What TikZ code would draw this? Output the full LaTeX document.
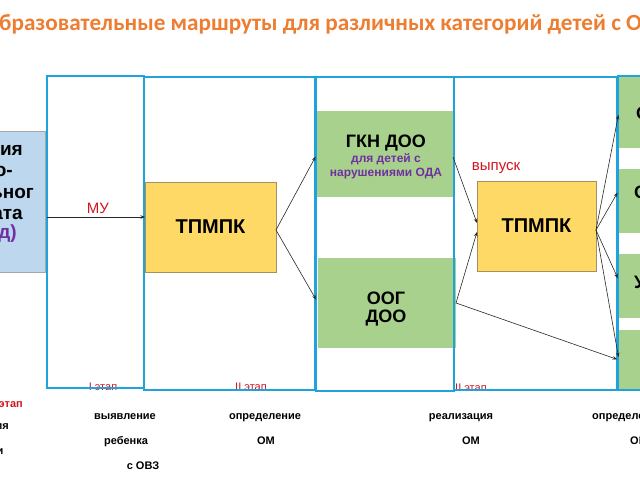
\documentclass[tikz,border=0pt]{standalone}
\usepackage{fontspec}
\setmainfont{Liberation Sans}
\newfontfamily\titlefont{Carlito}[BoldFont={Carlito Bold}]
\usetikzlibrary{arrows.meta}
\definecolor{frameblue}{RGB}{30,163,221}
\definecolor{boxgreen}{RGB}{169,209,142}
\definecolor{boxyellow}{RGB}{255,217,102}
\definecolor{yellowedge}{RGB}{165,145,95}
\definecolor{lightblue}{RGB}{189,215,238}
\definecolor{titleorange}{RGB}{237,125,49}
\definecolor{labelred}{RGB}{210,20,30}
\definecolor{textpurple}{RGB}{112,48,160}
\tikzset{
  frame/.style={draw=frameblue, line width=2.5pt, inner sep=0pt, outer sep=0pt},
  greenbox/.style={fill=boxgreen, inner sep=0pt, outer sep=0pt},
  yellowbox/.style={fill=boxyellow, draw=yellowedge, line width=0.7pt, inner sep=0pt, outer sep=0pt,
    font=\bfseries\fontsize{20}{24}\selectfont},
  arr/.style={draw=black!85, line width=0.6pt, -{Stealth[length=4.5pt,width=3.5pt]}},
  bigtxt/.style={font=\bfseries\fontsize{18}{20}\selectfont, inner sep=0pt},
  smalltxt/.style={font=\bfseries\fontsize{11}{13}\selectfont, inner sep=0pt},
  stagetxt/.style={font=\fontsize{11}{13}\selectfont, text=labelred, inner sep=0pt},
  redtxt/.style={font=\fontsize{15}{18}\selectfont, text=labelred, inner sep=0pt},
}
\begin{document}
\begin{tikzpicture}[x=1pt,y=-1pt]
\useasboundingbox (0,0) rectangle (640,480);
\clip (0,0) rectangle (640,480);
% title
\node[anchor=base west, inner sep=0pt, text=titleorange, font=\titlefont\bfseries\fontsize{23.2}{28}\selectfont] (title) at (-1,30) {бразовательные маршруты для различных категорий детей с О};
% left light blue box
\node[fill=lightblue, draw=black!35, line width=0.6pt, minimum width=80pt, minimum height=141pt, inner sep=0pt] (lb) at (5,201.5) {};
\node[bigtxt, anchor=base east, font=\bfseries\fontsize{19}{22}\selectfont] (lb1) at (23,155) {ния};
\node[bigtxt, anchor=base east, font=\bfseries\fontsize{19}{22}\selectfont] (lb2) at (13,176) {о-};
\node[bigtxt, anchor=base east, font=\bfseries\fontsize{19}{22}\selectfont] (lb3) at (34,198) {ьног};
\node[bigtxt, anchor=base east, font=\bfseries\fontsize{19}{22}\selectfont] (lb4) at (23,219) {ата};
\node[bigtxt, anchor=base east, font=\bfseries\fontsize{19}{22}\selectfont, text=textpurple] (lb5) at (17,238) {д)};
% yellow boxes
\node[yellowbox, minimum width=131pt, minimum height=90pt] (tp1) at (210.5,227) {ТПМПК};
\node[yellowbox, minimum width=119pt, minimum height=90pt] (tp2) at (536.5,226) {ТПМПК};
% green boxes
\node[greenbox, minimum width=136pt, minimum height=86pt] (gkn) at (385,154) {};
\node[bigtxt, anchor=base] (gkn1) at (386,147) {ГКН ДОО};
\node[smalltxt, font=\bfseries\fontsize{12}{14}\selectfont, text=textpurple, anchor=base] (gkn2) at (386,162) {для детей с};
\node[smalltxt, font=\bfseries\fontsize{12}{14}\selectfont, text=textpurple, anchor=base] (gkn3) at (386,176) {нарушениями ОДА};
\node[greenbox, minimum width=138pt, minimum height=90pt] (oog) at (387,303) {};
\node[bigtxt, anchor=base] (oog1) at (386,304) {ООГ};
\node[bigtxt, anchor=base] (oog2) at (386,322) {ДОО};
% right column green boxes
\node[greenbox, minimum width=80pt, minimum height=72pt] (g1) at (659,112) {};
\node[greenbox, minimum width=80pt, minimum height=64pt] (g2) at (659,201) {};
\node[greenbox, minimum width=80pt, minimum height=64pt] (g3) at (659,286) {};
\node[greenbox, minimum width=80pt, minimum height=60pt] (g4) at (659,360) {};
\node[bigtxt, anchor=west] (g1t) at (636,113) {О};
\node[bigtxt, anchor=west] (g2t) at (634,192) {О};
\node[bigtxt, anchor=west] (g3t) at (634,282) {У};
% stage labels (partly covered by frames)
\node[stagetxt, anchor=base] (st1) at (103,390) {I этап};
\node[stagetxt, anchor=base] (st2) at (251,390) {II этап};
\node[stagetxt, anchor=base west] (st3) at (455,391) {II этап};
% frames
\node[frame, minimum width=97pt, minimum height=312pt] (f1) at (95.5,232) {};
\node[frame, minimum width=171pt, minimum height=313pt] (f2) at (229.5,233.5) {};
\node[frame, minimum width=138pt, minimum height=314pt] (f3) at (385,234) {};
\node[frame, minimum width=163pt, minimum height=313pt] (f4) at (535.5,233.5) {};
\node[frame, minimum width=82pt, minimum height=314pt] (f5) at (659,233) {};
% connectors
\coordinate (mustart) at (47,217);
\draw[arr] (mustart) -- (tp1.west |- mustart);
\node[redtxt] (mu) at (98,208) {МУ};
\draw[arr, shorten >=3pt] ([yshift=-3pt]tp1.east) -- (gkn.west);
\draw[arr, shorten >=4pt] ([yshift=-3pt]tp1.east) -- (oog.west);
\draw[arr] ([yshift=-3pt]gkn.east) -- ([yshift=3pt]tp2.west);
\draw[arr] (oog.east) -- ([yshift=-6pt]tp2.west);
\draw[arr, shorten >=2pt] (oog.east) -- (g4.west);
\node[redtxt] (vyp) at (496,168) {выпуск};
\draw[arr, shorten >=3pt] ([yshift=-4pt]tp2.east) -- (g1.west);
\draw[arr, shorten >=3pt] ([yshift=-4pt]tp2.east) -- ([yshift=11pt]g2.west);
\draw[arr, shorten >=3pt] ([yshift=-4pt]tp2.east) -- ([yshift=5pt]g3.west);
\draw[arr, shorten >=3pt] ([yshift=-4pt]tp2.east) -- (g4.west);
% bottom texts
\node[smalltxt, text=labelred, anchor=base east] (st0) at (23,407) {этап};
\node[smalltxt, anchor=base east] (l1) at (9,429) {ия};
\node[smalltxt, anchor=base east] (l2) at (3.5,454) {и};
\node[smalltxt, anchor=base] (t1) at (125,419) {выявление};
\node[smalltxt, anchor=base] (t2) at (126,444) {ребенка};
\node[smalltxt, anchor=base] (t3) at (143,469) {с ОВЗ};
\node[smalltxt, anchor=base] (t4) at (265,419) {определение};
\node[smalltxt, anchor=base] (t5) at (266,444) {ОМ};
\node[smalltxt, anchor=base] (t6) at (461,419) {реализация};
\node[smalltxt, anchor=base] (t7) at (471,444) {ОМ};
\node[smalltxt, anchor=base west] (t8) at (592,419) {определение};
\node[smalltxt, anchor=base west] (t9) at (630,444) {ОМ};
\end{tikzpicture}
\end{document}
